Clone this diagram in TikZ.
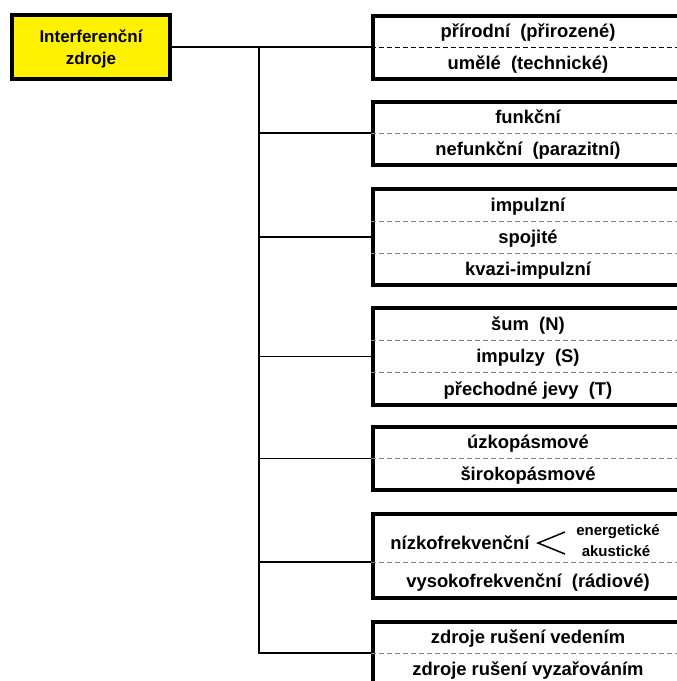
\documentclass[tikz,border=0pt]{standalone}
\usepackage{fontspec}
\setmainfont{Liberation Sans}
\begin{document}
\begin{tikzpicture}[x=1pt,y=-1pt,line join=miter,
	font=\fontsize{18.4}{20}\selectfont\bfseries,
	srcbox/.style={draw,line width=4pt,fill=yellow,minimum width=158pt,minimum height=64pt,align=center,font=\fontsize{17}{22}\selectfont\bfseries},
	catbox/.style={draw,line width=4pt,minimum width=310pt,inner sep=0pt},
	item/.style={inner sep=0pt,text height=13pt,text depth=4pt,yshift=-1.5pt},
	small/.style={inner sep=0pt,font=\fontsize{15}{16}\selectfont\bfseries},
	divider/.style={gray,line width=1pt,dash pattern=on 5pt off 3pt},
	link/.style={line width=1.5pt}]
	\useasboundingbox (0,0) rectangle (677,681);
	\clip (0,0) rectangle (677,681);
	% source
	\node[srcbox] (src) at (91,47) {\rule{0pt}{17.5pt}Interferenční\\zdroje};
	% categories
	\node[catbox,minimum height=63pt] (b1) at (528,47) {};
	\node[catbox,minimum height=63pt] (b2) at (528,133) {};
	\node[catbox,minimum height=96pt] (b3) at (528,237) {};
	\node[catbox,minimum height=97pt] (b4) at (528,356.5) {};
	\node[catbox,minimum height=63pt] (b5) at (528,458.5) {};
	\node[catbox,minimum height=84pt] (b6) at (528,556) {};
	\node[catbox,minimum height=62pt] (b7) at (528,653) {};
	\coordinate (b6d) at ([yshift=-6pt]b6.west);
	% dashed dividers
	\draw[divider,black] (b1.west)--(b1.east);
	\draw[divider] (b2.west)--(b2.east);
	\draw[divider] ([yshift=16pt]b3.west)--([yshift=16pt]b3.east)
		([yshift=-16pt]b3.west)--([yshift=-16pt]b3.east);
	\draw[divider] ([yshift=16pt]b4.west)--([yshift=16pt]b4.east)
		([yshift=-16pt]b4.west)--([yshift=-16pt]b4.east);
	\draw[divider] (b5.west)--(b5.east);
	\draw[divider] (b6d)--([yshift=-6pt]b6.east);
	\draw[divider] (b7.west)--(b7.east);
	% texts
	\node[item] (b1a) at (528,31) {přírodní~~(přirozené)};
	\node[item] (b1b) at (528,63) {umělé~~(technické)};
	\node[item] (b2a) at (528,117) {funkční};
	\node[item] (b2b) at (528,149) {nefunkční~~(parazitní)};
	\node[item] (b3a) at (528,205) {impulzní};
	\node[item] (b3b) at (528,237) {spojité};
	\node[item] (b3c) at (528,269) {kvazi-impulzní};
	\node[item] (b4a) at (528,324) {šum~~(N)};
	\node[item] (b4b) at (528,356.5) {impulzy~~(S)};
	\node[item] (b4c) at (528,389) {přechodné jevy~~(T)};
	\node[item] (b5a) at (528,442.5) {úzkopásmové};
	\node[item] (b5b) at (528,474.5) {širokopásmové};
	\node[item] (b6a) at (460,543) {nízkofrekvenční};
	\node[small] (b6e) at (618,532) {energetické};
	\node[small] (b6k) at (616,551) {akustické};
	\draw[line width=1.5pt] (565,532)--(538,543)--(565,554);
	\node[item] (b6b) at (528,581) {vysokofrekvenční~~(rádiové)};
	\node[item] (b7a) at (528,637) {zdroje rušení vedením};
	\node[item] (b7b) at (528,669) {zdroje rušení vyzařováním};
	% connectors
	\coordinate (fork) at (259,47);
	\draw[link] (src.east)--(b1.west);
	\draw[link] (fork)--(fork|-b7.west)--(b7.west);
	\foreach \b in {b2.west,b3.west,b4.west,b5.west,b6d}
		\draw[link] (fork|-\b)--(\b);
\end{tikzpicture}
\end{document}
